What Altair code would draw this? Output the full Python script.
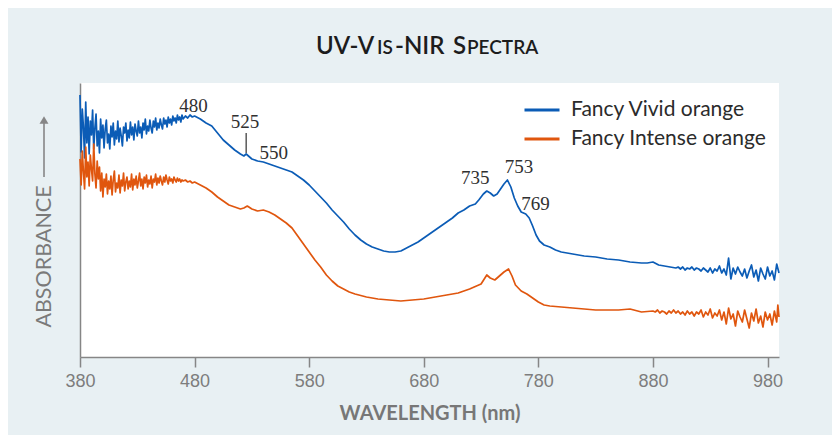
import altair as alt
import pandas as pd

# ---------------- data ----------------
series_names = ["Fancy Vivid orange", "Fancy Intense orange"]
series_colors = ["#0b5cb6", "#e0560e"]

vivid_wl = (list(range(380, 470)) +
            [470, 472, 474, 476, 478, 480, 485, 490, 495, 500, 505, 510, 515, 520, 523, 525,
             528, 530, 535, 540, 545, 550, 555, 560, 565, 570, 575, 580, 585, 590, 595, 600,
             605, 610, 615, 620, 625, 630, 635, 640, 645, 650, 655, 660, 665, 670, 675, 680,
             685, 690, 695, 700, 705, 710, 715, 720, 725, 728, 732, 735, 738, 741, 744, 747,
             750, 753, 756, 759, 762, 765, 769, 772, 775, 778, 781, 785, 790, 795, 800, 810,
             820, 830, 840, 850, 860, 870, 875, 880, 885, 890, 895] +
            list(range(900, 992, 2)))
vivid_abs = [262, 205, 248, 230, 199, 255, 214, 240, 203, 236, 222, 247, 208, 229, 243, 211,
             226, 204, 238, 219, 232, 209, 228, 237, 214, 223, 208, 231, 220, 234, 212, 226,
             218, 236, 215, 229, 221, 211, 230, 224, 234, 216, 227, 219, 235, 222, 230, 217,
             233, 226, 221, 236, 224, 230, 219, 234, 227, 238, 223, 231, 226, 237, 229, 224,
             236, 230, 239, 227, 234, 229, 238, 232, 228, 239, 233, 237, 230, 240, 234, 238,
             232, 241, 236, 239, 234, 242, 237, 240, 235, 242,
             238, 241, 239, 242, 240, 241, 238, 234, 231, 224, 217, 212, 207, 203, 201, 203,
             200, 198, 196, 195, 193, 191, 189, 187, 185, 181, 177, 172, 166, 160, 154, 147,
             141, 135, 128, 122, 117, 113, 110, 108, 106, 105, 105, 106, 109, 112, 115, 119,
             123, 127, 131, 135, 139, 144, 147, 151, 153, 157, 163, 166, 164, 161, 163, 168,
             173, 177, 170, 159, 151, 145, 143, 139, 131, 122, 116, 112, 110, 107, 105, 103,
             101, 100, 98, 97, 95, 94, 94, 95, 92, 91, 90,
             89, 90, 88, 90, 87, 89, 88, 90, 87, 89, 88, 86, 89, 87, 85, 89,
             84, 88, 86, 91, 84, 88, 82, 99, 78, 89, 83, 90, 85, 81, 88, 79,
             86, 92, 80, 87, 76, 89, 83, 78, 90, 81, 86, 77, 93, 84]

intense_wl = (list(range(380, 470)) +
              [470, 472, 474, 476, 478, 480, 485, 490, 495, 500, 505, 510, 515, 520, 523, 526,
               530, 535, 540, 545, 550, 555, 560, 565, 570, 575, 580, 585, 590, 595, 600, 605,
               610, 615, 620, 630, 640, 650, 660, 670, 680, 690, 700, 710, 720, 730, 735, 738,
               742, 746, 750, 754, 757, 760, 765, 770, 775, 780, 785, 790, 800, 810, 820, 830,
               840, 850, 860, 870] +
              list(range(880, 990, 2)) + [989, 990])
intense_abs = [198, 172, 206, 185, 168, 210, 180, 195, 171, 202, 188, 176, 213, 183, 169, 196,
               178, 190, 166, 184, 160, 178, 170, 183, 163, 176, 168, 181, 162, 177, 186, 165,
               174, 169, 182, 164, 177, 171, 184, 166, 175, 180, 168, 176, 170, 183, 167, 178,
               172, 181, 169, 176, 184, 171, 178, 168, 180, 174, 182, 170, 177, 173, 181, 169,
               178, 175, 183, 172, 179, 174, 181, 176, 172, 180, 175, 182, 177, 173, 180, 176,
               178, 174, 180, 177, 175, 179, 176, 178, 175, 177,
               176, 177, 175, 176, 174, 175, 172, 169, 165, 160, 156, 152, 150, 148, 149, 151,
               148, 146, 147, 145, 142, 138, 134, 129, 121, 113, 105, 97, 90, 82, 76, 71,
               68, 65, 63, 60, 58, 57, 56, 57, 58, 60, 62, 64, 68, 73, 82, 79,
               77, 81, 85, 88, 81, 72, 66, 63, 59, 55, 52, 51, 50, 49, 48, 47,
               47, 47, 48, 45,
               46, 45, 47, 44, 46, 45, 43, 46, 44, 47, 44, 46, 43, 45, 42, 46,
               43, 45, 41, 45, 43, 47, 40, 45, 42, 48, 39, 44, 41, 47, 37, 45,
               33, 49, 38, 43, 31, 46, 40, 35, 47, 38, 29, 44, 36, 48, 34, 41,
               30, 45, 37, 43, 32, 46, 35, 52, 40]

x_ticks = [380, 480, 580, 680, 780, 880, 980]

peak_text = ["480", "525", "550", "735", "753", "769"]
peak_wl = [479, 524, 549, 725, 763, 777.5]
peak_abs = [245, 229, 198, 173, 184, 147]

marker_wl = [525]
marker_abs_low = [204]
marker_abs_high = [224]

# title "UV-Vis-NIR Spectra" set in small caps: (text, font size)
title_parts = ["UV-V", "IS", "-NIR", "S", "PECTRA"]
title_sizes = [24, 19, 24, 24, 19]

# ---------------- tables ----------------
spectra = pd.concat([
    pd.DataFrame({"wl": vivid_wl, "a": vivid_abs, "series": series_names[0]}),
    pd.DataFrame({"wl": intense_wl, "a": intense_abs, "series": series_names[1]}),
], ignore_index=True)
peaks = pd.DataFrame({"wl": peak_wl, "a": peak_abs, "t": peak_text})
marker = pd.DataFrame({"wl": marker_wl, "a": marker_abs_low, "a2": marker_abs_high})
one = pd.DataFrame({"k": [0]})

GRAY = "#868686"
LABEL_FONT = "Liberation Sans"
TITLE_FONT = "Lato"

x_enc = alt.X(
    "wl:Q",
    scale=alt.Scale(domain=[380, 990], nice=False, zero=False),
    axis=alt.Axis(
        values=x_ticks, grid=False, title="WAVELENGTH (nm)",
        tickSize=10, tickColor=GRAY, tickWidth=1.5, domainColor=GRAY, domainWidth=1.5,
        labelFont=LABEL_FONT, labelFontSize=18, labelColor="#7d7d7d", labelPadding=5,
        labelFlush=False,
        titleFont=TITLE_FONT, titleFontWeight="bold", titleFontSize=20, titleColor="#777777",
        titleY=62, titleBaseline="alphabetic",
    ),
)
y_enc = alt.Y(
    "a:Q",
    scale=alt.Scale(domain=[0, 274], nice=False, zero=False),
    axis=alt.Axis(
        ticks=False, labels=False, grid=False, domainColor=GRAY, domainWidth=1.5,
        title="ABSORBANCE", titleFont=TITLE_FONT, titleFontWeight="normal", titleFontSize=21.5,
        titleColor="#7a7a7a", titleAngle=270, titleX=-36, titleY=173,
        titleAlign="center", titleBaseline="middle",
    ),
)

lines = alt.Chart(spectra).mark_line(strokeWidth=1.7, strokeJoin="round").encode(
    x=x_enc,
    y=y_enc,
    color=alt.Color(
        "series:N",
        scale=alt.Scale(domain=series_names, range=series_colors),
        legend=alt.Legend(
            title=None, orient="none", legendX=443, legendY=8,
            symbolType="stroke", symbolStrokeWidth=3, symbolSize=1225,
            labelFont=TITLE_FONT, labelFontSize=21, labelColor="#2b2b2b",
            labelOffset=10, rowPadding=-8, labelLimit=0,
        ),
    ),
    order="wl:Q",
    detail="series:N",
)

labels = alt.Chart(peaks).mark_text(
    font="Liberation Serif", fontSize=19, color="#303030", baseline="alphabetic", align="center"
).encode(x="wl:Q", y="a:Q", text="t:N")

tick = alt.Chart(marker).mark_rule(color="#303030", strokeWidth=1.2).encode(
    x="wl:Q", y="a:Q", y2="a2:Q"
)

arrow_shaft = alt.Chart(one).mark_rule(color=GRAY, strokeWidth=1.6).encode(
    x=alt.value(-36), y=alt.value(40), y2=alt.value(94)
)
arrow_head = alt.Chart(one).mark_point(
    shape="triangle-up", filled=True, color=GRAY, size=80, opacity=1
).encode(x=alt.value(-36), y=alt.value(37))

title_x = [236, 297, 315, 373, 387]
title_layers = [
    alt.Chart(one).mark_text(
        text=t, font=TITLE_FONT, fontSize=s, fontWeight=600, color="#1c1c1c",
        align="left", baseline="alphabetic",
    ).encode(x=alt.value(px), y=alt.value(-29))
    for t, s, px in zip(title_parts, title_sizes, title_x)
]

chart = alt.layer(lines, tick, labels, arrow_shaft, arrow_head, *title_layers).properties(
    width=699,
    height=274,
    autosize=alt.AutoSizeParams(type="none"),
    padding={"left": 72, "top": 75, "right": 53, "bottom": 78},
    background="#e8f0f3",
).configure_view(fill="white", strokeWidth=0)

chart.save("out.html", embed_options={"renderer": "svg", "actions": False})
